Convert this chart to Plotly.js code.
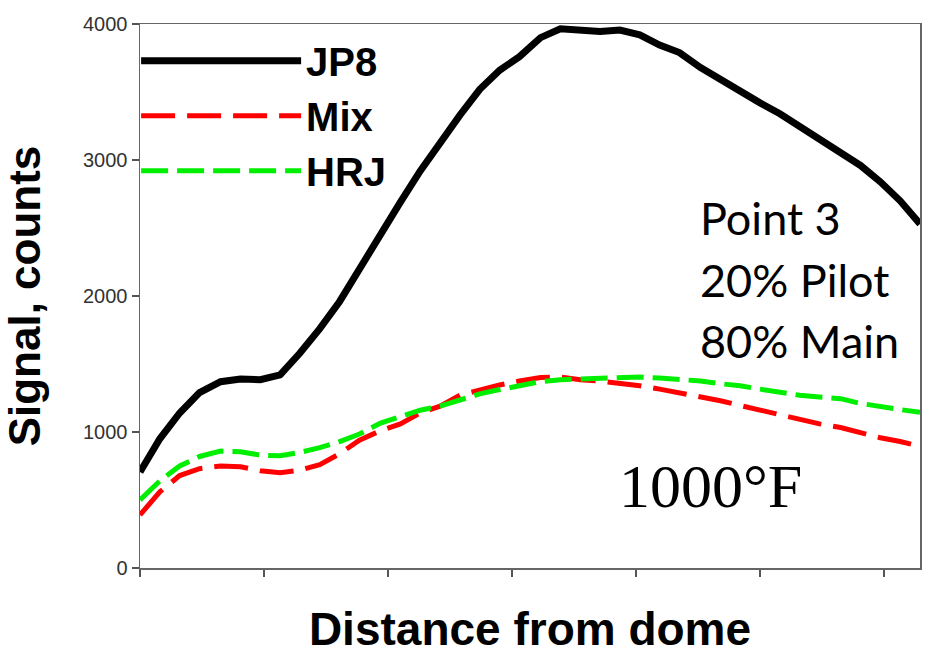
<!DOCTYPE html>
<html>
<head>
<meta charset="utf-8">
<script src="https://cdn.plot.ly/plotly-3.0.1.min.js"></script>
<style>html,body{margin:0;padding:0;background:#fff;}#chart{width:943px;height:655px;}</style>
</head>
<body>
<div id="chart"></div>
<script>
// Distance from dome (axis units, one tick = 1 unit)
const distance = [0, 0.16, 0.32, 0.48, 0.65, 0.81, 0.97, 1.13, 1.29, 1.45,
  1.61, 1.77, 1.94, 2.10, 2.26, 2.42, 2.58, 2.74, 2.90, 3.06,
  3.23, 3.39, 3.55, 3.71, 3.87, 4.03, 4.19, 4.35, 4.52, 4.68,
  4.84, 5.00, 5.16, 5.32, 5.48, 5.65, 5.81, 5.97, 6.13, 6.29];

const jp8 = [706, 950, 1140, 1290, 1370, 1390, 1385, 1420, 1581, 1760,
  1960, 2200, 2470, 2690, 2920, 3130, 3330, 3520, 3660, 3760,
  3900, 3965, 3960, 3945, 3955, 3920, 3845, 3790, 3680, 3590,
  3510, 3420, 3340, 3245, 3150, 3060, 2960, 2840, 2700, 2530];

const mix = [390, 560, 680, 730, 750, 745, 715, 700, 720, 760,
  840, 940, 1010, 1060, 1140, 1190, 1270, 1310, 1346, 1375,
  1400, 1405, 1385, 1375, 1360, 1340, 1315, 1290, 1260, 1230,
  1195, 1162, 1125, 1090, 1060, 1033, 995, 958, 930, 895];

const hrj = [500, 640, 750, 820, 860, 855, 830, 825, 850, 885,
  930, 985, 1066, 1110, 1160, 1190, 1235, 1280, 1312, 1338,
  1370, 1385, 1390, 1390, 1395, 1404, 1397, 1390, 1375, 1355,
  1340, 1315, 1290, 1270, 1257, 1245, 1210, 1185, 1165, 1145];

const seriesNames = ["JP8", "Mix", "HRJ"];
const yTicks = [0, 1000, 2000, 3000, 4000];
const xTicks = [0, 1, 2, 3, 4, 5, 6];
const noteLines = ["Point 3", "20% Pilot", "80% Main"];
const tempLabel = "1000°F";

const traces = [
  {x: distance, y: jp8, name: seriesNames[0], mode: "lines", legendgroup: "a",
   line: {color: "#000000", width: 7}},
  {x: distance, y: mix, name: seriesNames[1], mode: "lines", legendgroup: "b",
   line: {color: "#ff0000", width: 5, dash: "34px,12px"}},
  {x: distance, y: hrj, name: seriesNames[2], mode: "lines", legendgroup: "c",
   line: {color: "#00ee00", width: 5, dash: "27px,9px"}}
];

const axisFont = {family: "Liberation Sans, Arial, sans-serif", size: 20, color: "#333"};
const noteY = [0.643, 0.529, 0.417];
const annotations = noteLines.map((t, i) => ({
  text: t, xref: "paper", yref: "paper", x: 0.715, y: noteY[i],
  xanchor: "left", yanchor: "middle", showarrow: false,
  font: {family: "Lato, Carlito, sans-serif", size: 45, color: "#000"}
}));
annotations.push({
  text: tempLabel, xref: "paper", yref: "paper", x: 0.731, y: 0.15,
  xanchor: "center", yanchor: "middle", showarrow: false,
  font: {family: "Liberation Serif, Times New Roman, serif", size: 62, color: "#000"}
});

const layout = {
  width: 943, height: 655,
  margin: {l: 140, r: 23, t: 24, b: 87},
  paper_bgcolor: "#fff", plot_bgcolor: "#fff",
  showlegend: true,
  legend: {
    x: -0.005, y: 0.992, xanchor: "left", yanchor: "top",
    bgcolor: "rgba(0,0,0,0)", borderwidth: 0,
    itemwidth: 160, tracegroupgap: 0, traceorder: "grouped",
    font: {family: "Liberation Sans, Arial, sans-serif", size: 40, color: "#000", weight: "bold"}
  },
  xaxis: {
    range: [0, 6.29], tickvals: xTicks, showticklabels: false,
    ticks: "outside", ticklen: 7, tickcolor: "#555", tickwidth: 1.5,
    showline: true, linecolor: "#666", linewidth: 1.5, mirror: true,
    showgrid: false, zeroline: false,
    title: {text: "Distance from dome", standoff: 39,
      font: {family: "Liberation Sans, Arial, sans-serif", size: 46, color: "#000", weight: "bold"}}
  },
  yaxis: {
    range: [0, 4000], tickvals: yTicks,
    ticks: "outside", ticklen: 7, tickcolor: "#555", tickwidth: 1.5,
    showline: true, linecolor: "#666", linewidth: 1.5, mirror: true,
    showgrid: false, zeroline: false,
    tickfont: axisFont,
    title: {text: "Signal, counts", standoff: 28,
      font: {family: "Liberation Sans, Arial, sans-serif", size: 44, color: "#000", weight: "bold"}}
  },
  annotations: annotations
};

Plotly.newPlot("chart", traces, layout, {displayModeBar: false, staticPlot: true});
</script>
</body>
</html>
